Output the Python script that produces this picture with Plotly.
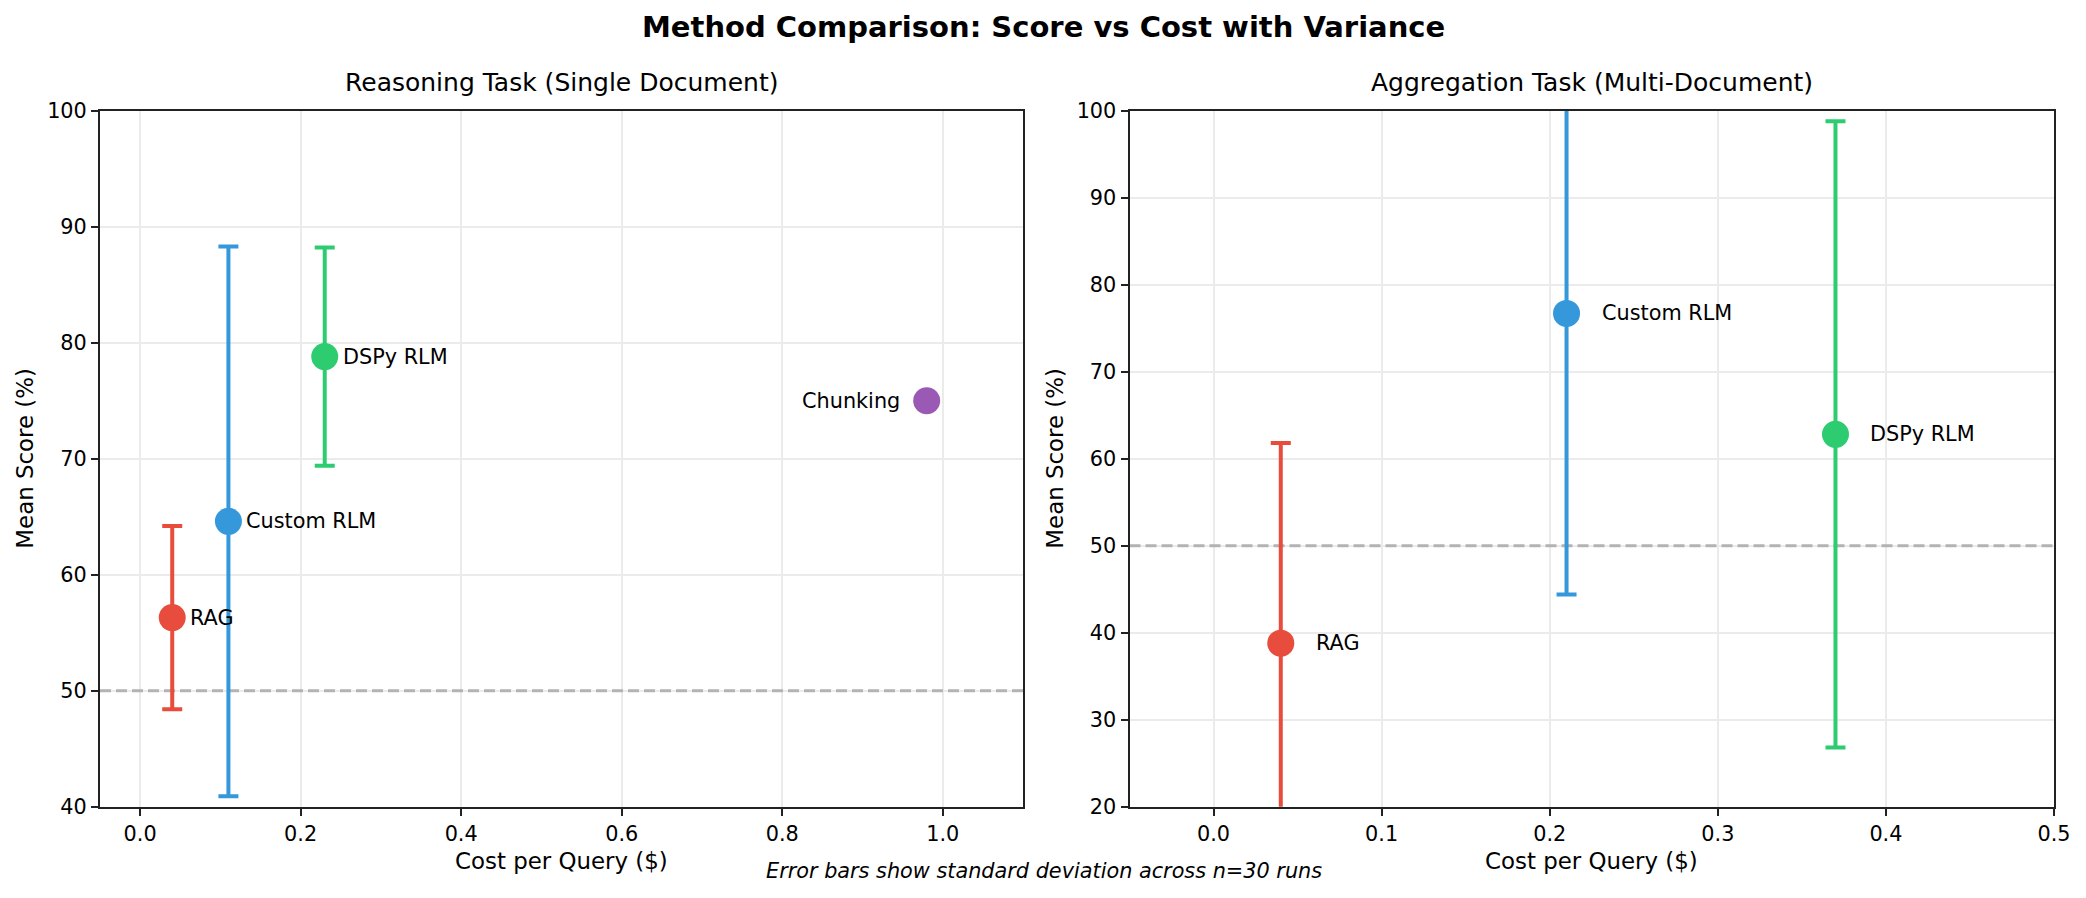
import plotly.graph_objects as go

# ---------------- data ----------------
methods_reasoning = ["RAG", "Custom RLM", "DSPy RLM", "Chunking"]
cost_reasoning = [0.04, 0.11, 0.23, 0.98]
score_reasoning = [56.3, 64.6, 78.8, 75.0]
std_reasoning = [7.9, 23.7, 9.4, 0.0]

methods_aggregation = ["RAG", "Custom RLM", "DSPy RLM"]
cost_aggregation = [0.04, 0.21, 0.37]
score_aggregation = [38.8, 76.7, 62.8]
std_aggregation = [23.0, 32.3, 36.0]

baseline = 50

x_range_reasoning = [-0.05, 1.1]
x_range_aggregation = [-0.05, 0.5]
y_range_reasoning = [40, 100]
y_range_aggregation = [20, 100]

x_ticks_reasoning = [0.0, 0.2, 0.4, 0.6, 0.8, 1.0]
x_ticks_aggregation = [0.0, 0.1, 0.2, 0.3, 0.4, 0.5]

# ---------------- style ----------------
colors = {"RAG": "#e74c3c", "Custom RLM": "#3498db", "DSPy RLM": "#2ecc71", "Chunking": "#9b59b6"}
FONT = "DejaVu Sans"
W, H = 2086, 898

def px_x(p):
    return p / W

def px_y(p):
    return 1 - p / H

dom_y = [px_y(806.7), px_y(110.7)]
dom_x1 = [px_x(100), px_x(1023)]
dom_x2 = [px_x(1129.5), px_x(2054)]

fig = go.Figure()

def add_panel(methods, costs, scores, stds, xa, ya, xr, shift_map):
    # baseline dashed line first so it sits under the markers / error bars
    fig.add_trace(go.Scatter(
        x=xr, y=[baseline, baseline], mode="lines", showlegend=False,
        xaxis=xa, yaxis=ya, hoverinfo="skip",
        line=dict(color="#b3b3b3", width=3, dash="11px,5px"),
    ))
    for m, c, s, d in zip(methods, costs, scores, stds):
        fig.add_trace(go.Scatter(
            x=[c], y=[s], mode="markers", name=m, showlegend=False,
            xaxis=xa, yaxis=ya,
            marker=dict(size=27, color=colors[m], line=dict(width=0)),
            error_y=dict(type="data", array=[d], symmetric=True, visible=True,
                         color=colors[m], thickness=4, width=10),
        ))
        shift, anchor = shift_map.get(m, shift_map["default"])
        fig.add_annotation(
            x=c, y=s, xref=xa, yref=ya, text=m, showarrow=False,
            xanchor=anchor, yanchor="middle", xshift=shift,
            font=dict(family=FONT, size=20.8, color="black"),
        )

add_panel(methods_reasoning, cost_reasoning, score_reasoning, std_reasoning, "x", "y",
          x_range_reasoning, {"default": (16, "left"), "Chunking": (-25, "right")})
add_panel(methods_aggregation, cost_aggregation, score_aggregation, std_aggregation, "x2", "y2",
          x_range_aggregation, {"default": (33, "left")})

axis_common = dict(
    showline=True, linecolor="#222222", linewidth=2, mirror=True,
    ticks="outside", ticklen=7, tickwidth=2, tickcolor="#222222",
    showgrid=True, gridcolor="#ebebeb", gridwidth=2, zeroline=False,
    tickfont=dict(family=FONT, size=20.8, color="black"),
    automargin=False,
)

fig.update_layout(
    width=W, height=H,
    margin=dict(l=0, r=0, t=0, b=0),
    paper_bgcolor="white", plot_bgcolor="white",
    xaxis=dict(domain=dom_x1, range=x_range_reasoning, tickvals=x_ticks_reasoning,
               tickformat=".1f", anchor="y", **axis_common),
    yaxis=dict(domain=dom_y, range=y_range_reasoning, dtick=10, anchor="x", **axis_common),
    xaxis2=dict(domain=dom_x2, range=x_range_aggregation, tickvals=x_ticks_aggregation,
                tickformat=".1f", anchor="y2", **axis_common),
    yaxis2=dict(domain=dom_y, range=y_range_aggregation, dtick=10, anchor="x2", **axis_common),
)

# texts
def text(x, y, t, size, bold=False, italic=False, angle=0):
    fig.add_annotation(
        x=x, y=y, xref="paper", yref="paper", text=t, showarrow=False,
        xanchor="center", yanchor="middle", textangle=angle,
        font=dict(family=FONT, size=size, color="black",
                  weight="bold" if bold else "normal",
                  style="italic" if italic else "normal"),
    )

text(0.5, px_y(27), "Method Comparison: Score vs Cost with Variance", 29, bold=True)
text(sum(dom_x1) / 2, px_y(82), "Reasoning Task (Single Document)", 25)
text(sum(dom_x2) / 2, px_y(82), "Aggregation Task (Multi-Document)", 25)
text(sum(dom_x1) / 2, px_y(861), "Cost per Query ($)", 22.9)
text(sum(dom_x2) / 2, px_y(861), "Cost per Query ($)", 22.9)
text(px_x(25), sum(dom_y) / 2, "Mean Score (%)", 22.9, angle=-90)
text(px_x(1055), sum(dom_y) / 2, "Mean Score (%)", 22.9, angle=-90)
text(0.5005, px_y(871), "Error bars show standard deviation across n=30 runs", 20.8, italic=True)

fig.write_html("out.html", config={"displayModeBar": False},
               post_script="document.body.style.margin='0px';")
